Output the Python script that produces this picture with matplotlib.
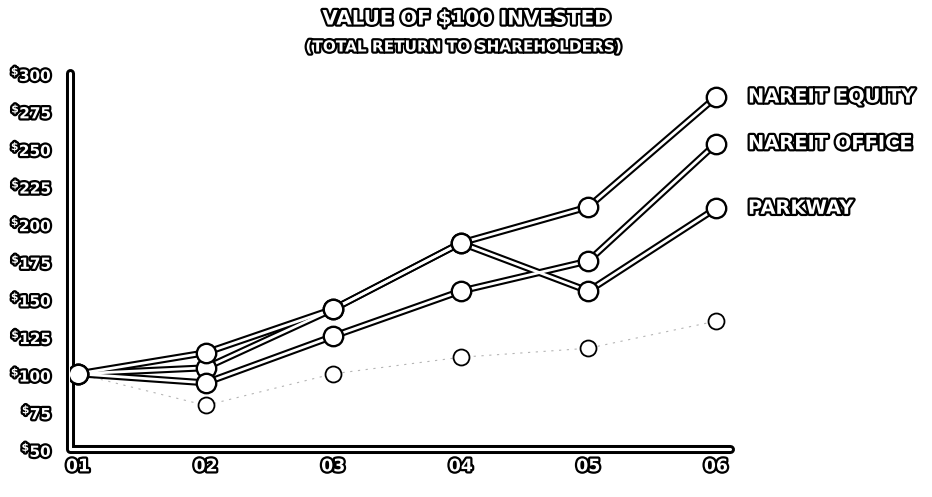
import numpy as np
import matplotlib
matplotlib.use("Agg")
import matplotlib.pyplot as plt
import matplotlib.patheffects as pe

# Years on the x axis and tick labels
years = ['01', '02', '03', '04', '05', '06']
y_ticks = [50, 75, 100, 125, 150, 175, 200, 225, 250, 275, 300]

# Value of $100 invested
nareit_equity = [100, 104, 143, 187, 211, 284]
nareit_office = [100, 94, 125, 155, 175, 253]
parkway = [100, 114, 143, 187, 155, 210]
# Unlabelled series (open circles only)
other_index = [100, 79, 100, 111, 117, 135]

series_names = ['NAREIT EQUITY', 'NAREIT OFFICE', 'PARKWAY']
series_values = [nareit_equity, nareit_office, parkway]

plt.rcParams['font.family'] = ['DejaVu Sans']
plt.rcParams['mathtext.fontset'] = 'dejavusans'

# white text with a black outline, like the scanned original
outline = [pe.withStroke(linewidth=3.2, foreground='black')]

fig = plt.figure(figsize=(9.32, 4.97), dpi=100)
ax = fig.add_axes([70 / 932, 1 - 449 / 497, 660 / 932, 376 / 497])
x = np.arange(len(years))
xmin, xmax = -0.063, 5.11
ax.set_xlim(xmin, xmax)
ax.set_ylim(50, 300)
for s in ax.spines.values():
    s.set_visible(False)

# axis lines drawn as hollow double lines
ax.plot([xmin, xmin, xmax], [300, 50, 50], color='black', lw=6.5, clip_on=False,
        solid_capstyle='round', solid_joinstyle='round', zorder=1)
ax.plot([xmin, xmin, xmax], [300, 50, 50], color='white', lw=2.2, clip_on=False,
        solid_capstyle='round', solid_joinstyle='round', zorder=1.1)

# faint trace of the unlabelled series
ax.plot(x, other_index, color='#b5b5b5', lw=0.8, ls=(0, (2, 5)), zorder=2)
ax.plot(x, other_index, ls='none', marker='o', ms=11.5, mfc='white', mec='black',
        mew=1.3, zorder=3)

# all black outlines first, then the white cores so crossings merge
for vals in series_values:
    ax.plot(x, vals, color='black', lw=5, solid_capstyle='round', zorder=4)
for vals in series_values:
    ax.plot(x, vals, color='white', lw=2, solid_capstyle='round', zorder=5)
for vals in series_values:
    ax.plot(x, vals, ls='none', marker='o', ms=14, mfc='white', mec='black',
            mew=1.7, zorder=6)

# series labels at the right end
for name, vals in zip(series_names, series_values):
    ax.annotate(name, xy=(x[-1], vals[-1]), xytext=(32, 0), textcoords='offset pixels',
                va='center', ha='left', fontsize=14, fontweight='bold', color='white',
                path_effects=outline, annotation_clip=False)

# ticks
ax.set_xticks(x)
ax.set_xticklabels(years)
ax.set_yticks(y_ticks)
ax.set_yticklabels([r'$^{\mathbf{\$}}$' + str(v) for v in y_ticks])
ax.tick_params(axis='y', length=0, pad=13)
ax.tick_params(axis='x', length=0, pad=6)
for lab in ax.get_xticklabels():
    lab.set_fontsize(12.5)
for lab in ax.get_yticklabels():
    lab.set_fontsize(11)
for lab in ax.get_xticklabels() + ax.get_yticklabels():
    lab.set_fontweight('bold')
    lab.set_color('white')
    lab.set_path_effects(outline)

# titles
fig.text(0.501, 1 - 19 / 497, 'VALUE OF $100 INVESTED', ha='center', va='center',
         fontsize=14.3, fontweight='bold', color='white', path_effects=outline)
fig.text(0.497, 1 - 47 / 497, '(TOTAL RETURN TO SHAREHOLDERS)', ha='center', va='center',
         fontsize=11, fontweight='bold', color='white', path_effects=outline)

plt.savefig('out.png', dpi=100, facecolor='white')
